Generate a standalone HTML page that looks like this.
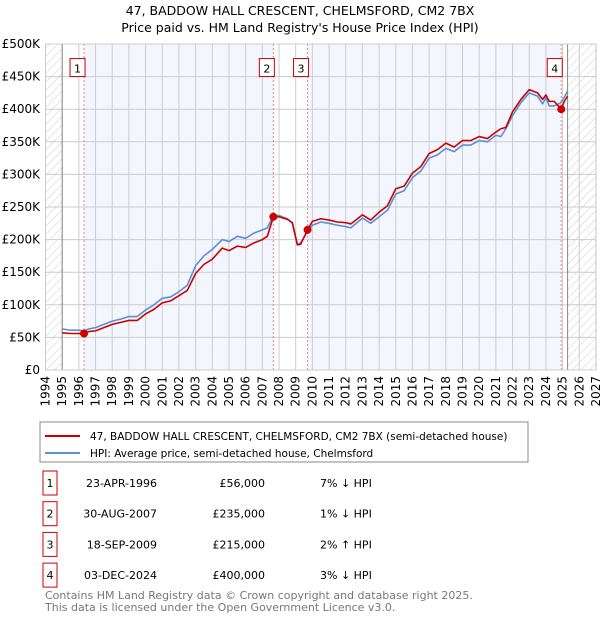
<!DOCTYPE html>
<html><head><meta charset="utf-8"><style>
body{margin:0;background:#fff;font-family:"Liberation Sans","DejaVu Sans",sans-serif;}
svg{display:block}
</style></head><body>
<svg width="600" height="620" xmlns="http://www.w3.org/2000/svg" font-family="DejaVu Sans, Liberation Sans, sans-serif">
<defs>
<pattern id="hatch" width="6" height="6" patternUnits="userSpaceOnUse" patternTransform="rotate(45)">
<line x1="0" y1="0" x2="0" y2="6" stroke="#ccc" stroke-width="1"/></pattern>
</defs>
<text x="300" y="15" text-anchor="middle" font-size="12.5">47, BADDOW HALL CRESCENT, CHELMSFORD, CM2 7BX</text>
<text x="300" y="32" text-anchor="middle" font-size="12.5">Price paid vs. HM Land Registry's House Price Index (HPI)</text>
<g id="plot"></g>
<g id="axes"></g>
<rect x="40" y="422" width="488" height="40" fill="#fff" stroke="#888"/>
<line x1="45" y1="436" x2="80" y2="436" stroke="#cc0000" stroke-width="2"/>
<text x="90" y="440" font-size="10.5">47, BADDOW HALL CRESCENT, CHELMSFORD, CM2 7BX (semi-detached house)</text>
<line x1="45" y1="453" x2="80" y2="453" stroke="#5b8fd4" stroke-width="2"/>
<text x="90" y="457" font-size="10.5">HPI: Average price, semi-detached house, Chelmsford</text>
<g id="table" font-size="11"></g>
<text x="45" y="599" font-size="11" fill="#777">Contains HM Land Registry data © Crown copyright and database right 2025.</text>
<text x="45" y="611" font-size="11" fill="#777">This data is licensed under the Open Government Licence v3.0.</text>
</svg>
<script>
const hpiYears=[1995,1995.5,1996,1996.3,1996.6,1997,1997.5,1998,1998.5,1999,1999.5,2000,2000.5,2001,2001.5,2002,2002.5,2003,2003.5,2004,2004.6,2005,2005.5,2006,2006.5,2007,2007.3,2007.66,2008,2008.5,2008.8,2009.1,2009.3,2009.7,2010,2010.5,2011,2011.5,2012,2012.3,2013,2013.5,2014,2014.5,2015,2015.5,2016,2016.5,2017,2017.5,2018,2018.5,2019,2019.5,2020,2020.5,2021,2021.3,2021.6,2022,2022.5,2023,2023.5,2023.8,2024,2024.2,2024.5,2024.9,2025.1,2025.3];
const hpiValues=[63,61,61,60,63,65,70,75,78,82,82,92,100,110,112,120,130,160,175,185,200,197,205,202,210,215,218,237,237,232,225,192,195,212,222,227,225,222,220,218,233,225,235,245,270,275,295,305,325,330,340,335,345,345,352,350,360,358,370,390,410,425,420,408,418,405,405,410,418,428];
const redYears=[1995,1995.5,1996,1996.3,1996.6,1997,1997.5,1998,1998.5,1999,1999.5,2000,2000.5,2001,2001.5,2002,2002.5,2003,2003.5,2004,2004.6,2005,2005.5,2006,2006.5,2007,2007.3,2007.66,2008,2008.5,2008.8,2009.1,2009.3,2009.71,2010,2010.5,2011,2011.5,2012,2012.3,2013,2013.5,2014,2014.5,2015,2015.5,2016,2016.5,2017,2017.5,2018,2018.5,2019,2019.5,2020,2020.5,2021,2021.3,2021.6,2022,2022.5,2023,2023.5,2023.8,2024,2024.2,2024.5,2024.92,2025.1,2025.3];
const redValues=[57,56,56,56,59,60,65,70,73,76,76,86,93,103,106,114,122,148,162,170,187,183,190,188,195,200,205,235,235,231,226,192,193,215,228,232,230,227,226,224,238,230,242,252,278,282,302,312,332,338,348,342,352,352,358,355,365,370,372,396,415,430,425,415,422,412,412,400,412,420];
const saleYears=[2007.66,1996.31,2009.71,2024.92];
const saleLabels=["2","1","3","4"];
const saleValues=[235,56,215,400];
const yTicks=[0,50,100,150,200,250,300,350,400,450,500];
const yLabels=["£0","£50K","£100K","£150K","£200K","£250K","£300K","£350K","£400K","£450K","£500K"];
const xYears=[1994,1995,1996,1997,1998,1999,2000,2001,2002,2003,2004,2005,2006,2007,2008,2009,2010,2011,2012,2013,2014,2015,2016,2017,2018,2019,2020,2021,2022,2023,2024,2025,2026,2027];
const rowDates=["23-APR-1996","30-AUG-2007","18-SEP-2009","03-DEC-2024"];
const rowPrices=["£56,000","£235,000","£215,000","£400,000"];
const rowHpi=["7% ↓ HPI","1% ↓ HPI","2% ↑ HPI","3% ↓ HPI"];

const NS="http://www.w3.org/2000/svg";
const X0=45.5,XS=16.68,Y0=370,YS=0.652;
const xs=y=>X0+(y-1994)*XS, ys=v=>Y0-v*YS;
function mk(p,t,a){const e=document.createElementNS(NS,t);for(const k in a)e.setAttribute(k,a[k]);p.appendChild(e);return e;}
const plot=document.getElementById('plot'),axes=document.getElementById('axes');
const sorted=saleYears.slice().sort((a,b)=>a-b);
let r=mk(plot,'rect',{x:xs(sorted[0]),y:ys(500),width:xs(sorted[1])-xs(sorted[0]),height:500*YS,fill:'#f3f6fe'});

r=mk(plot,'rect',{x:xs(sorted[2]),y:ys(500),width:xs(sorted[3])-xs(sorted[2]),height:500*YS,fill:'#f3f6fe'});

r=mk(plot,'rect',{x:xs(1994),y:ys(500),width:xs(1995)-xs(1994),height:500*YS,fill:'url(#hatch)'});

r=mk(plot,'rect',{x:xs(2025.3),y:ys(500),width:xs(2027)-xs(2025.3),height:500*YS,fill:'url(#hatch)'});

yTicks.forEach((v,i)=>{
 const l=mk(plot,'line',{x1:xs(1994),x2:xs(2027),y1:ys(v),y2:ys(v),stroke:'#ccc'});
 
 const t=mk(axes,'text',{x:40,y:ys(v)+4,'text-anchor':'end','font-size':'12'});t.textContent=yLabels[i];
 
});
xYears.forEach(y=>{
 const l=mk(plot,'line',{x1:xs(y),x2:xs(y),y1:ys(0),y2:ys(500),stroke:'#ccc'});
 
 const t=mk(axes,'text',{x:0,y:0,'text-anchor':'end','font-size':'12',transform:`translate(${xs(y)+4},${ys(0)+6}) rotate(-90)`});t.textContent=y;
 
});
let b=mk(plot,'line',{x1:xs(1995),x2:xs(1995),y1:ys(0),y2:ys(500),stroke:'#888'});

b=mk(plot,'line',{x1:xs(2025.3),x2:xs(2025.3),y1:ys(0),y2:ys(500),stroke:'#888'});

saleYears.forEach((y,i)=>{
 const l=mk(plot,'line',{x1:xs(y),x2:xs(y),y1:ys(0),y2:ys(500),stroke:'#f08080','stroke-dasharray':'2,2'});
 
 const bx=mk(plot,'rect',{x:xs(y)-14,y:ys(470)-5,width:15,height:18,fill:'#fff',stroke:'#cc0000'});
 
 const t=mk(plot,'text',{x:xs(y)-6.5,y:ys(470)+9,'text-anchor':'middle','font-size':'11'});t.textContent=saleLabels[i];
 
});
function line(X,V,c,n){const p=mk(plot,'polyline',{points:X.map((y,i)=>xs(y)+','+ys(V[i])).join(' '),fill:'none',stroke:c,'stroke-width':1.6,'stroke-linejoin':'round'});
 }
line(hpiYears,hpiValues,'#5b8fd4','hpi-line');
line(redYears,redValues,'#cc0000','property-price-line');
saleYears.forEach((y,i)=>{
 const c=mk(plot,'circle',{cx:xs(y),cy:ys(saleValues[i]),r:4,fill:'#cc0000'});
 
});
mk(plot,'rect',{x:xs(1994),y:ys(500),width:xs(2027)-xs(1994),height:500*YS,fill:'none',stroke:'#ccc'});
const tb=document.getElementById('table');
rowDates.forEach((d,i)=>{
 const cy=483+i*30.7;
 const bx=mk(tb,'rect',{x:43,y:cy-12,width:14,height:24,fill:'#fff',stroke:'#cc0000'});
 
 let t=mk(tb,'text',{x:50,y:cy+4,'text-anchor':'middle'});t.textContent=String(i+1);
 
 t=mk(tb,'text',{x:157,y:cy+4,'text-anchor':'end'});t.textContent=d;
 
 t=mk(tb,'text',{x:265,y:cy+4,'text-anchor':'end'});t.textContent=rowPrices[i];
 
 t=mk(tb,'text',{x:320,y:cy+4});t.textContent=rowHpi[i];
 
});
</script>
</body></html>
